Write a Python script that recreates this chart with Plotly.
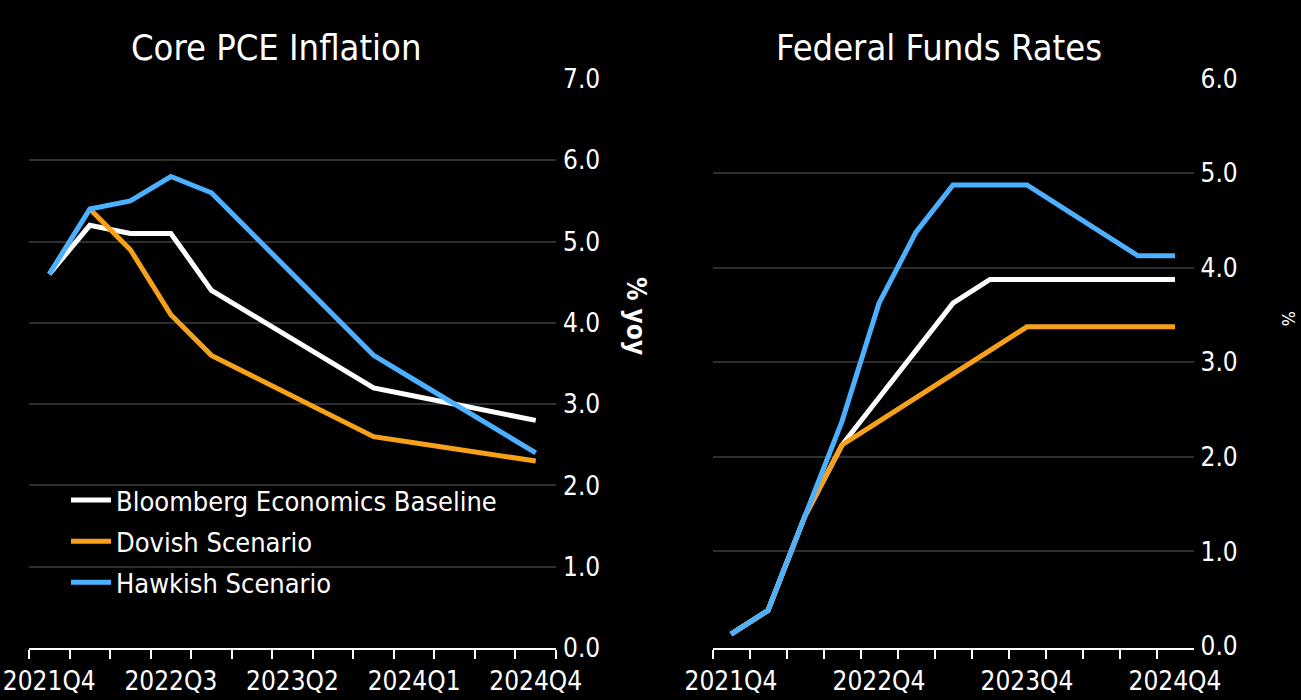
import plotly.graph_objects as go

# ---- data ----
quarters = ["2021Q4", "2022Q1", "2022Q2", "2022Q3", "2022Q4", "2023Q1", "2023Q2",
            "2023Q3", "2023Q4", "2024Q1", "2024Q2", "2024Q3", "2024Q4"]

pce_baseline = [4.6, 5.2, 5.1, 5.1, 4.4, 4.1, 3.8, 3.5, 3.2, 3.1, 3.0, 2.9, 2.8]
pce_dovish = [None, 5.4, 4.9, 4.1, 3.6, 3.35, 3.1, 2.85, 2.6, 2.525, 2.45, 2.375, 2.3]
pce_hawkish = [4.6, 5.4, 5.5, 5.8, 5.6, 5.1, 4.6, 4.1, 3.6, 3.3, 3.0, 2.7, 2.4]

ffr_baseline = [0.125, 0.375, 1.375, 2.125, 2.625, 3.125, 3.625, 3.875, 3.875, 3.875, 3.875, 3.875, 3.875]
ffr_dovish = [0.125, 0.375, 1.375, 2.125, 2.375, 2.625, 2.875, 3.125, 3.375, 3.375, 3.375, 3.375, 3.375]
ffr_hawkish = [0.125, 0.375, 1.375, 2.375, 3.625, 4.375, 4.875, 4.875, 4.875, 4.625, 4.375, 4.125, 4.125]

series_names = ["Bloomberg Economics Baseline", "Dovish Scenario", "Hawkish Scenario"]
left_labels_every = 3
right_labels_every = 4

# ---- style ----
W, H = 1301, 700
FONT = "DejaVu Sans Condensed, DejaVu Sans"
WHITE = "#ffffff"
ORANGE = "#f7a11a"
BLUE = "#4db0ff"
GRID = "#2e2e2e"
colors = [WHITE, ORANGE, BLUE]

fig = go.Figure()

left = [pce_baseline, pce_dovish, pce_hawkish]
right = [ffr_baseline, ffr_dovish, ffr_hawkish]
for i, (name, vals) in enumerate(zip(series_names, left)):
    fig.add_trace(go.Scatter(x=quarters, y=vals, name=name, mode="lines",
                             line=dict(color=colors[i], width=5),
                             xaxis="x", yaxis="y", legendgroup=name,
                             showlegend=True))
for i, (name, vals) in enumerate(zip(series_names, right)):
    fig.add_trace(go.Scatter(x=quarters, y=vals, name=name, mode="lines",
                             line=dict(color=colors[i], width=5),
                             xaxis="x2", yaxis="y2", showlegend=False))


def px_x(p):
    return p / W


def px_y(p):
    return 1 - p / H


def xaxis_cfg(domain, every):
    return dict(domain=domain, type="category", categoryorder="array",
                categoryarray=quarters, tickmode="array", tickvals=quarters,
                ticktext=[q if k % every == 0 else "" for k, q in enumerate(quarters)],
                tickson="boundaries", ticks="outside", ticklen=9, tickwidth=2,
                tickcolor=WHITE, showline=True, linecolor=WHITE, linewidth=2,
                showgrid=False, zeroline=False, fixedrange=True, tickangle=0,
                ticklabelstandoff=9,
                automargin=False, range=[-0.5, len(quarters) - 0.5],
                tickfont=dict(family=FONT, size=26, color=WHITE))


def yaxis_cfg(domain, anchor, top):
    return dict(domain=domain, anchor=anchor, side="right", range=[0, top],
                dtick=1, tickformat=".1f", showgrid=True, gridcolor=GRID,
                gridwidth=2, zeroline=False, showline=False, ticks="",
                ticklabelstandoff=6, automargin=False,
                tickfont=dict(family=FONT, size=26, color=WHITE))


fig.update_layout(
    width=W, height=H,
    paper_bgcolor="black", plot_bgcolor="black",
    margin=dict(l=0, r=0, t=0, b=0, autoexpand=False),
    font=dict(family=FONT, color=WHITE),
    xaxis=xaxis_cfg([px_x(29), px_x(556)], left_labels_every),
    yaxis=yaxis_cfg([px_y(648), px_y(79)], "x", 7),
    xaxis2=xaxis_cfg([px_x(712.5), px_x(1193.5)], right_labels_every),
    yaxis2=yaxis_cfg([px_y(646), px_y(78.5)], "x2", 6),
    showlegend=True,
    legend=dict(x=px_x(66), y=px_y(476), xanchor="left", yanchor="top",
                bgcolor="rgba(0,0,0,0)", tracegroupgap=3, itemwidth=40,
                font=dict(family=FONT, size=27, color=WHITE)),
    annotations=[
        dict(text="Core PCE Inflation", x=px_x(276), y=px_y(47), xref="paper",
             yref="paper", showarrow=False, xanchor="center", yanchor="middle",
             font=dict(family=FONT, size=36, color=WHITE)),
        dict(text="Federal Funds Rates", x=px_x(939), y=px_y(47), xref="paper",
             yref="paper", showarrow=False, xanchor="center", yanchor="middle",
             font=dict(family=FONT, size=36, color=WHITE)),
        dict(text="<b>% yoy</b>", x=px_x(636), y=px_y(316), xref="paper",
             yref="paper", showarrow=False, textangle=90, xanchor="center",
             yanchor="middle", font=dict(family=FONT, size=26, color=WHITE)),
        dict(text="%", x=px_x(1289), y=px_y(318), xref="paper",
             yref="paper", showarrow=False, textangle=90, xanchor="center",
             yanchor="middle", font=dict(family=FONT, size=18, color=WHITE)),
    ],
)

fig.write_html("out.html", config={"displayModeBar": False}, post_script=(
    "document.body.style.margin='0';document.body.style.background='black';"
    "document.body.style.overflow='hidden';"))
